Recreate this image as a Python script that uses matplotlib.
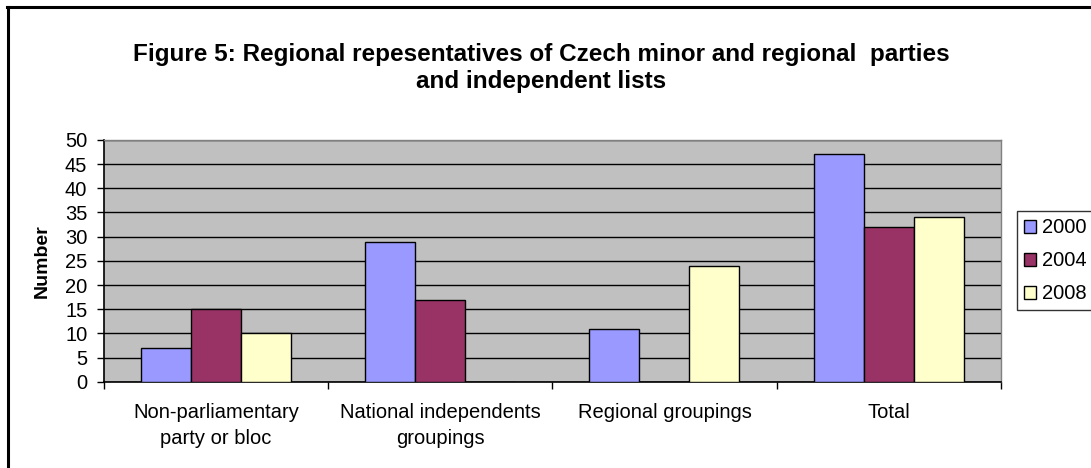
import numpy as np
from matplotlib import pyplot as plt
from matplotlib.lines import Line2D

# Chart data
categories = ['Non-parliamentary\nparty or bloc', 'National independents\ngroupings',
              'Regional groupings', 'Total']
years = ['2000', '2004', '2008']
v2000 = [7, 29, 11, 47]
v2004 = [15, 17, 0, 32]
v2008 = [10, 0, 24, 34]
colors = ['#9999FF', '#993366', '#FFFFCC']

plt.rcParams['font.family'] = ['Liberation Sans', 'DejaVu Sans']
fs = 14.5

fig = plt.figure(figsize=(10.91, 4.68), dpi=100)
ax = fig.add_axes([0.0953, 0.1844, 0.822, 0.5165])

x = np.arange(len(categories))
w = 0.223
for i, (vals, c, yr) in enumerate(zip([v2000, v2004, v2008], colors, years)):
    ax.bar(x + (i - 1) * w, vals, width=w, color=c, edgecolor='black',
           linewidth=1.0, label=yr, zorder=3)

ax.set_facecolor('#C0C0C0')
ax.set_xlim(-0.5, len(categories) - 0.5)
ax.set_ylim(0, 50)
ax.set_yticks(range(0, 51, 5))
ax.yaxis.grid(True, color='black', linewidth=1.0, zorder=1)
ax.set_axisbelow(True)

ax.set_xticks(x)
ax.set_xticklabels(categories, fontsize=fs, linespacing=1.5)
ax.set_xticks(np.arange(-0.5, len(categories) + 0.5, 1), minor=True)
ax.tick_params(axis='x', which='major', length=0, pad=15)
ax.tick_params(axis='x', which='minor', length=5, width=1.0, direction='out')
ax.tick_params(axis='y', length=5, width=1.0, labelsize=fs, pad=7)

for s in ['top', 'right']:
    ax.spines[s].set_color('#808080')
    ax.spines[s].set_linewidth(1.0)
for s in ['left', 'bottom']:
    ax.spines[s].set_color('black')
    ax.spines[s].set_linewidth(1.2)

ax.set_ylabel('Number', fontsize=fs - 0.5, fontweight='bold', labelpad=10)

fig.text(0.496, 0.855,
         'Figure 5: Regional repesentatives of Czech minor and regional  parties\nand independent lists',
         ha='center', va='center', fontsize=17.5, fontweight='bold', linespacing=1.25)

leg = ax.legend(loc='center left', bbox_to_anchor=(1.018, 0.50), frameon=True,
                fontsize=fs, handlelength=0.6, handleheight=0.6,
                handletextpad=0.3, borderpad=0.35, labelspacing=0.7,
                borderaxespad=0)
leg.get_frame().set_edgecolor('black')
leg.get_frame().set_linewidth(1.0)
leg.get_frame().set_boxstyle('square', pad=0)

# outer chart border (only left and top visible)
fig.add_artist(Line2D([0.0073, 0.0073], [0, 0.984], color='black', lw=2.2,
                      transform=fig.transFigure))
fig.add_artist(Line2D([0.0064, 1], [0.984, 0.984], color='black', lw=2.2,
                      transform=fig.transFigure))

fig.savefig('out.png', dpi=100)
